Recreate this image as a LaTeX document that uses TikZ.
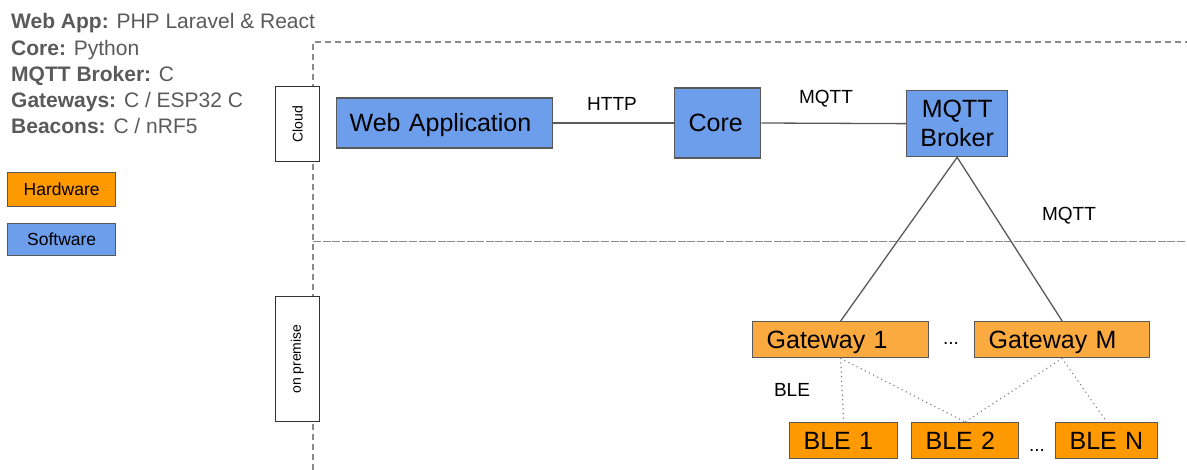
\documentclass[tikz,border=0pt]{standalone}
\usepackage{fontspec}
\setmainfont{Liberation Sans}
\definecolor{sw}{HTML}{6D9EEB}
\definecolor{hw}{HTML}{FF9900}
\definecolor{gwc}{HTML}{FBAA40}
\definecolor{edge}{HTML}{595959}
\definecolor{legtext}{HTML}{5A5A5A}
\definecolor{zone}{HTML}{8A8A8A}
\tikzset{
  box/.style={draw=edge, line width=1.3pt, inner ysep=0pt,
    font=\fontsize{25}{30}\selectfont, text height=18pt, text depth=0pt},
  swbox/.style={box, fill=sw},
  brokerbox/.style={draw=edge, line width=1.3pt, fill=sw, inner sep=0pt,
    font=\fontsize{25}{29}\selectfont, align=center},
  gwbox/.style={box, fill=gwc, align=left},
  blebox/.style={box, fill=hw, align=left},
  legbox/.style={draw=edge, line width=1.3pt, minimum width=108pt, minimum height=34pt,
    inner xsep=13pt, font=\fontsize{17.5}{20}\selectfont, text height=12.7pt, text depth=0pt},
  zonebox/.style={draw=black!80, line width=1.3pt, fill=white, minimum width=44pt,
    font=\fontsize{14}{16}\selectfont, inner sep=0pt},
  legline/.style={anchor=base west, text=legtext, font=\fontsize{21}{24}\selectfont, inner sep=0pt},
  lbl/.style={font=\fontsize{19}{22}\selectfont, inner sep=0pt},
  wire/.style={draw=edge, line width=1.3pt},
  radio/.style={draw=edge!80, line width=1.5pt, dash pattern=on 0.1pt off 4.5pt, line cap=round},
  cloudline/.style={draw=zone, line width=1.3pt, dash pattern=on 6pt off 4pt},
  splitline/.style={draw=zone, line width=1.3pt, dash pattern=on 8pt off 1.6pt},
}
\begin{document}
\begin{tikzpicture}[x=1pt, y=-1pt]
\useasboundingbox (0,0) rectangle (1187,470);

% zone borders
\coordinate (zt) at (313,42);
\coordinate (ztr) at (1187,42);
\coordinate (zb) at (313,470);
\coordinate (zm) at (313,241.5);
\coordinate (zmr) at (1187,241.5);
\draw[cloudline] (zb) -- (zt) -- (ztr);
\draw[splitline] (zm) -- (zmr);

% technology notes
\node[legline] (n1) at (11,29) {\textbf{Web App:} PHP Laravel \& React};
\node[legline] (n2) at (11,55.5) {\textbf{Core:} Python};
\node[legline] (n3) at (11,81.5) {\textbf{MQTT Broker:} C};
\node[legline] (n4) at (11,107.5) {\textbf{Gateways:} C / ESP32 C};
\node[legline] (n5) at (11,133.5) {\textbf{Beacons:} C / nRF5};

% legend
\node[legbox, fill=hw, anchor=north west] (hwkey) at (7,172) {Hardware};
\node[legbox, fill=sw, anchor=north west, minimum height=32pt] (swkey) at (7,223) {Software};

% zone tags
\node[zonebox, minimum height=75pt, anchor=north west] (cloud) at (275,86) {\rotatebox{90}{Cloud}};
\node[zonebox, minimum height=125pt, anchor=north west] (prem) at (274.5,296) {\rotatebox{90}{on premise}};

% cloud services
\node[swbox, anchor=west, text width=190pt, inner xsep=13pt, minimum height=50pt, align=left] (web) at (336,123) {Web Application};
\node[swbox, anchor=west, text width=58pt, inner xsep=14pt, minimum height=70pt, align=left] (core) at (674,123) {Core};
\node[brokerbox, anchor=north west, minimum width=101pt, minimum height=66pt] (broker) at (906,90) {MQTT\\Broker};

% on-premise devices
\node[gwbox, anchor=north west, text width=148pt, inner xsep=14pt, minimum height=36pt] (g1) at (752,321) {Gateway 1};
\node[gwbox, anchor=north west, text width=147pt, inner xsep=14pt, minimum height=36pt] (gm) at (974,321) {Gateway M};
\node[blebox, anchor=north west, text width=80pt, inner xsep=14pt, minimum height=36pt] (b1) at (789,422) {BLE 1};
\node[blebox, anchor=north west, text width=79pt, inner xsep=14pt, minimum height=36pt] (b2) at (911,422) {BLE 2};
\node[blebox, anchor=north west, text width=74pt, inner xsep=14pt, minimum height=36pt] (bn) at (1055,422) {BLE N};

% links
\draw[wire] (web.east) -- (core.west);
\draw[wire] (core.east) -- (broker.west);
\draw[wire] (broker.south) -- (g1.north);
\draw[wire] (broker.south) -- (gm.north);
\draw[radio] (g1.south) -- (b1.north);
\draw[radio] (g1.south) -- (b2.north);
\draw[radio] (gm.south) -- (b2.north);
\draw[radio] (gm.south) -- (bn.north);

% link labels
\node[lbl] (lhttp) at (612,104) {HTTP};
\node[lbl] (lmqtt1) at (826,99) {MQTT};
\node[lbl] (lmqtt2) at (1069,216) {MQTT};
\node[lbl] (lble) at (792,390) {BLE};
\node[lbl] (dotsg) at (951,343) {...};
\node[lbl] (dotsb) at (1037,450) {...};
\end{tikzpicture}
\end{document}
